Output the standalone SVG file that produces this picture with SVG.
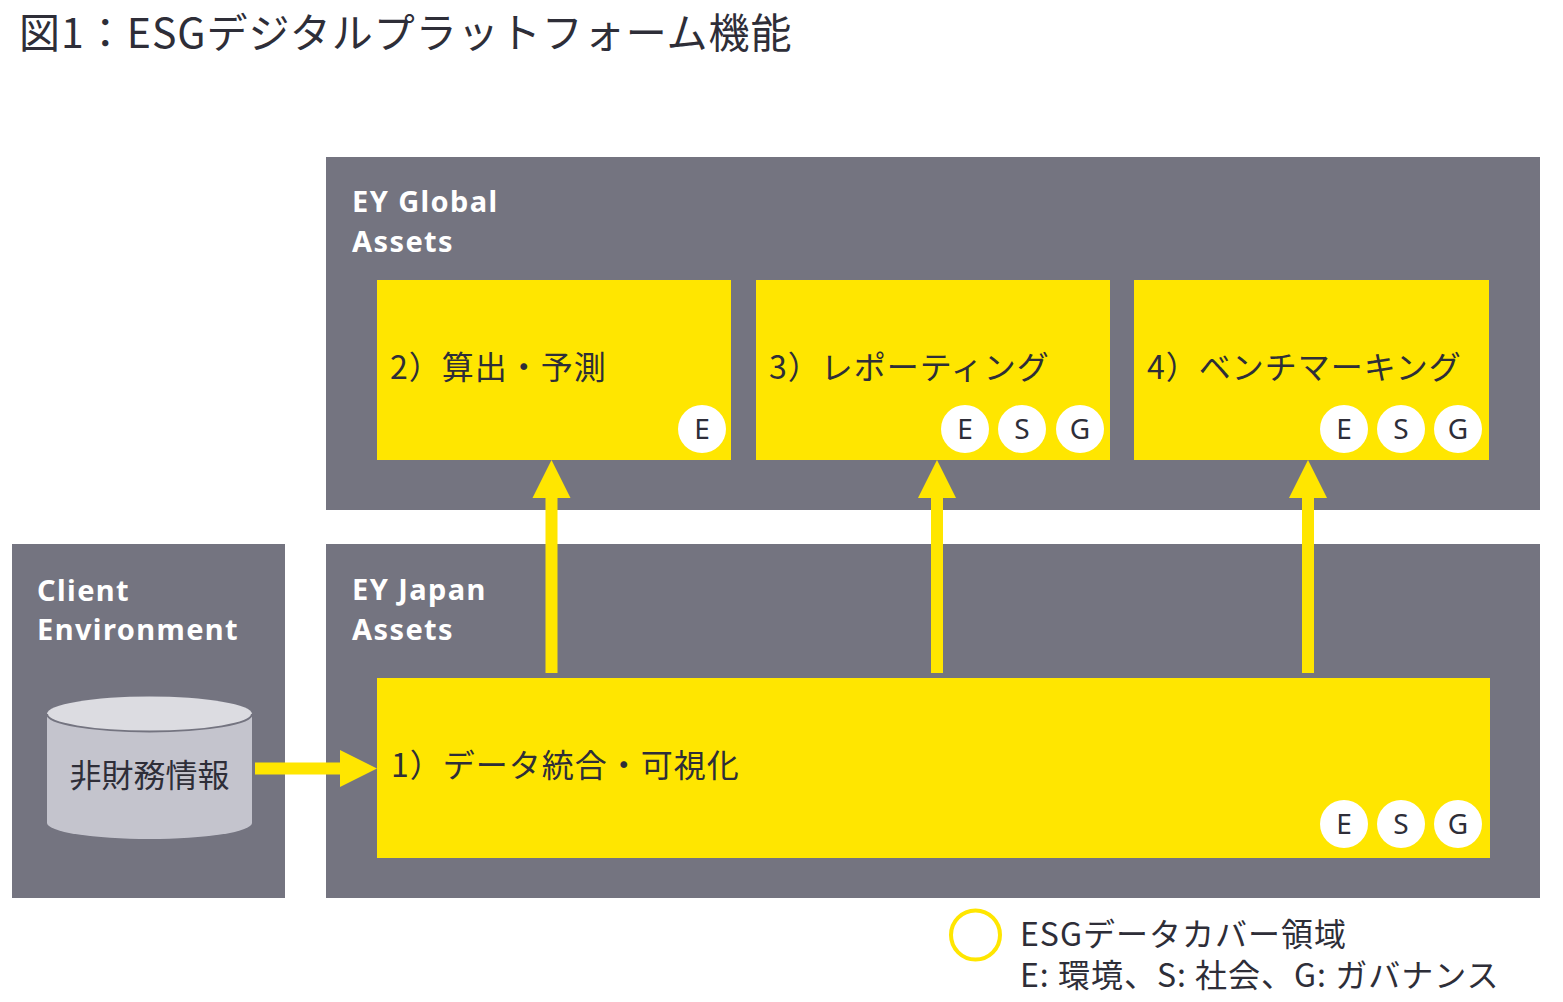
<svg xmlns="http://www.w3.org/2000/svg" width="1563" height="1002" viewBox="0 0 1563 1002">
<style>
.panel{fill:#747480}
.ybox{fill:#ffe600}
.hdr{font-family:"Noto Sans","Liberation Sans",sans-serif;font-weight:bold;font-size:29px;fill:#ffffff;letter-spacing:1.4px}
.lbl{font-family:"Noto Sans CJK JP",sans-serif;font-size:32px;fill:#2e2e38;letter-spacing:1px}
.badge{fill:#ffffff}
.bt{font-family:"Noto Sans","Liberation Sans",sans-serif;font-size:28px;fill:#2e2e38;text-anchor:middle}
.arr{fill:#ffe600}
.leg{font-family:"Noto Sans CJK JP",sans-serif;font-size:32px;fill:#2e2e38;letter-spacing:1px}
</style>
<rect width="1563" height="1002" fill="#ffffff"/>
<text id="title" x="19" y="48" font-family="'Noto Sans CJK JP',sans-serif" font-size="41" letter-spacing="1" fill="#2e2e38">図1：ESGデジタルプラットフォーム機能</text>

<g id="global">
<rect class="panel" x="326" y="157" width="1214" height="353"/>
<text class="hdr" x="352" y="212">EY Global</text>
<text class="hdr" x="352" y="252">Assets</text>
</g>

<g id="japan">
<rect class="panel" x="326" y="544" width="1214" height="354"/>
<text class="hdr" x="352" y="600">EY Japan</text>
<text class="hdr" x="352" y="640">Assets</text>
</g>

<g id="client">
<rect class="panel" x="12" y="544" width="273" height="354"/>
<text class="hdr" x="37" y="601">Client</text>
<text class="hdr" x="37" y="640">Environment</text>
</g>

<g id="db">
<path d="M47,714 L47,823 A102.5,16 0 0 0 252,823 L252,714 Z" fill="#c4c4cd"/>
<ellipse cx="149.5" cy="714" rx="102.5" ry="17.5" fill="#dcdce1"/>
<path d="M47,714 A102.5,17.5 0 0 0 252,714" fill="none" stroke="#747480" stroke-width="2"/>
<text x="149.5" y="787" font-family="'Noto Sans CJK JP',sans-serif" font-size="32" fill="#2e2e38" text-anchor="middle">非財務情報</text>
</g>

<g id="n2">
<rect class="ybox" x="377" y="280" width="354" height="180"/>
<text class="lbl" x="390" y="379">2）算出・予測</text>
<circle class="badge" cx="702" cy="429" r="24"/>
<text class="bt" x="702" y="439">E</text>
</g>

<g id="n3">
<rect class="ybox" x="756" y="280" width="354" height="180"/>
<text class="lbl" x="769" y="379">3）レポーティング</text>
<circle class="badge" cx="965" cy="429" r="24"/>
<text class="bt" x="965" y="439">E</text>
<circle class="badge" cx="1022" cy="429" r="24"/>
<text class="bt" x="1022" y="439">S</text>
<circle class="badge" cx="1080" cy="429" r="24"/>
<text class="bt" x="1080" y="439">G</text>
</g>

<g id="n4">
<rect class="ybox" x="1134" y="280" width="355" height="180"/>
<text class="lbl" x="1147" y="379">4）ベンチマーキング</text>
<circle class="badge" cx="1344" cy="429" r="24"/>
<text class="bt" x="1344" y="439">E</text>
<circle class="badge" cx="1401" cy="429" r="24"/>
<text class="bt" x="1401" y="439">S</text>
<circle class="badge" cx="1458" cy="429" r="24"/>
<text class="bt" x="1458" y="439">G</text>
</g>

<g id="n1">
<rect class="ybox" x="377" y="678" width="1113" height="180"/>
<text class="lbl" x="391" y="777">1）データ統合・可視化</text>
<circle class="badge" cx="1344" cy="824" r="24"/>
<text class="bt" x="1344" y="834">E</text>
<circle class="badge" cx="1401" cy="824" r="24"/>
<text class="bt" x="1401" y="834">S</text>
<circle class="badge" cx="1458" cy="824" r="24"/>
<text class="bt" x="1458" y="834">G</text>
</g>

<g id="connectors">
<path class="arr" d="M545.5,673 L545.5,498 L532.5,498 L551.5,460 L570.5,498 L557.5,498 L557.5,673 Z"/>
<path class="arr" d="M931,673 L931,498 L918,498 L937,460 L956,498 L943,498 L943,673 Z"/>
<path class="arr" d="M1302,673 L1302,498 L1289,498 L1308,460 L1327,498 L1314,498 L1314,673 Z"/>
<path class="arr" d="M255,762.5 L340,762.5 L340,750 L377,768.5 L340,787 L340,774.5 L255,774.5 Z"/>
</g>

<g id="legend">
<circle cx="975.5" cy="935" r="24.5" fill="none" stroke="#ffe600" stroke-width="4"/>
<text class="leg" x="1020" y="946">ESGデータカバー領域</text>
<text class="leg" x="1020" y="987">E: 環境、S: 社会、G: ガバナンス</text>
</g>
</svg>
